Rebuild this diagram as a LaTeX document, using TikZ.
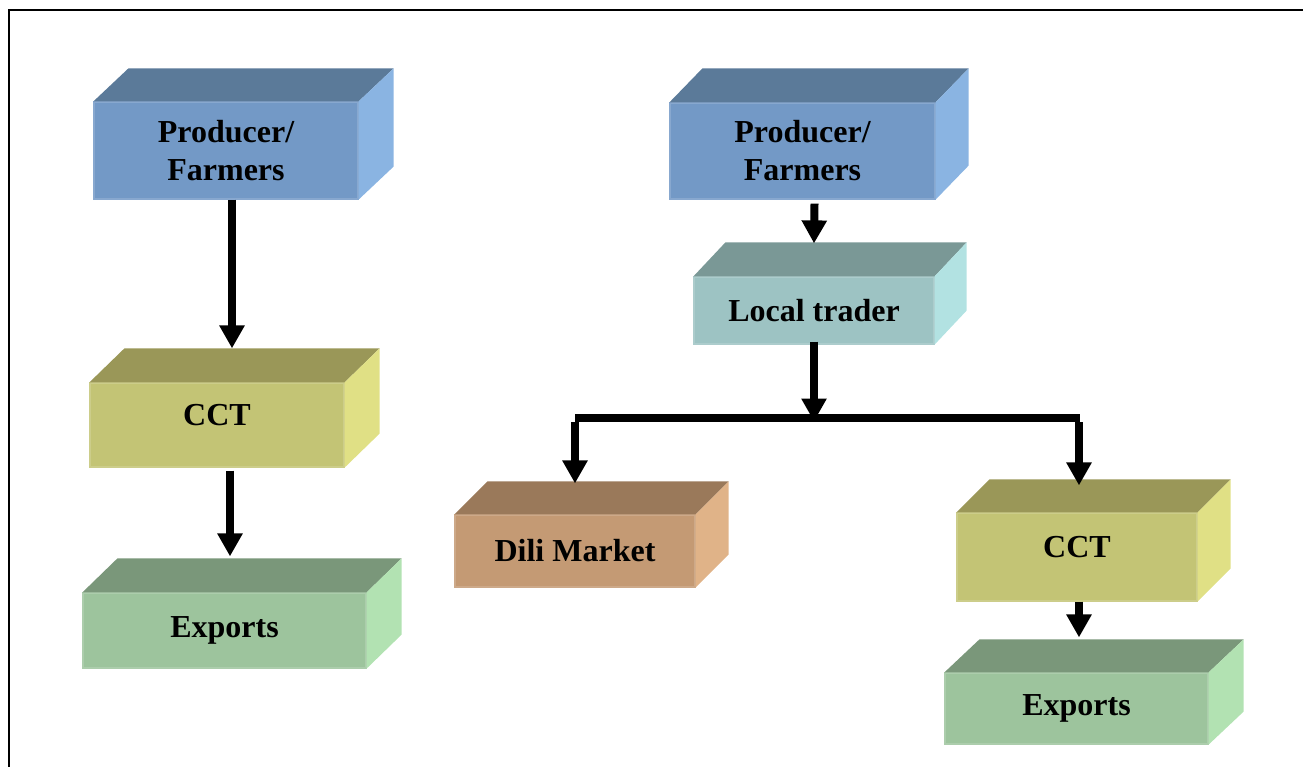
\documentclass[tikz,border=0pt]{standalone}
\usepackage{fontspec}
\setmainfont{Liberation Serif}
\usetikzlibrary{arrows.meta}
\definecolor{bluF}{RGB}{115,153,198}\definecolor{bluT}{RGB}{91,122,153}\definecolor{bluS}{RGB}{138,180,226}
\definecolor{teaF}{RGB}{157,195,195}\definecolor{teaT}{RGB}{122,152,150}\definecolor{teaS}{RGB}{178,226,226}
\definecolor{yelF}{RGB}{195,196,117}\definecolor{yelT}{RGB}{154,151,88}\definecolor{yelS}{RGB}{224,224,133}
\definecolor{grnF}{RGB}{157,196,157}\definecolor{grnT}{RGB}{122,151,122}\definecolor{grnS}{RGB}{178,226,178}
\definecolor{brnF}{RGB}{196,154,116}\definecolor{brnT}{RGB}{154,121,90}\definecolor{brnS}{RGB}{224,179,136}
\newcommand\cubefaces[5]{%
  \fill[#4] (#1.north west) -- ++(#2,-#3) -- ([shift={(#2,-#3)}]#1.north east) -- (#1.north east) -- cycle;
  \fill[#5] (#1.north east) -- ([shift={(#2,-#3)}]#1.north east) -- ([shift={(#2,-#3)}]#1.south east) -- (#1.south east) -- cycle;}
\tikzset{
  box/.style={rectangle, inner sep=0pt, align=center, font=\fontsize{32}{38}\selectfont\bfseries, line width=1.2pt},
  arr/.style={line width=8pt, -{Triangle[width=24pt,length=23pt]}},
  frame/.style={line width=2pt}
}
\begin{document}
\begin{tikzpicture}[x=1pt,y=-1pt]
\useasboundingbox (0,0) rectangle (1303,767);
\draw[frame] (8.5,767) -- (8.5,10) -- (1303,10);
% left column
\node[box, fill=bluF, draw=bluF!85!white, minimum width=264pt, minimum height=97pt] (pL) at (226,150.5) {Producer/\\Farmers};
\cubefaces{pL}{35}{33}{bluT}{bluS}
\node[box, fill=yelF, draw=yelF!85!white, minimum width=254pt, minimum height=84pt, text depth=21pt] (cL) at (217,425) {CCT};
\cubefaces{cL}{35}{34}{yelT}{yelS}
\node[box, fill=grnF, draw=grnF!85!white, minimum width=283pt, minimum height=75pt] (eL) at (224.5,630.5) {Exports};
\cubefaces{eL}{35}{34}{grnT}{grnS}
% right column
\node[box, fill=bluF, draw=bluF!85!white, minimum width=265pt, minimum height=96pt] (pR) at (802.5,151) {Producer/\\Farmers};
\cubefaces{pR}{33}{34}{bluT}{bluS}
\node[box, fill=teaF, draw=teaF!85!white, minimum width=240pt, minimum height=67pt] (lt) at (814,310.5) {Local trader};
\cubefaces{lt}{32}{34}{teaT}{teaS}
\node[box, fill=brnF, draw=brnF!85!white, minimum width=240pt, minimum height=72pt] (dm) at (575,551) {Dili Market};
\cubefaces{dm}{33}{33}{brnT}{brnS}
\node[box, fill=yelF, draw=yelF!85!white, minimum width=240pt, minimum height=88pt, text depth=21pt] (cR) at (1077,557) {CCT};
\cubefaces{cR}{33}{33}{yelT}{yelS}
\node[box, fill=grnF, draw=grnF!85!white, minimum width=263pt, minimum height=71pt] (eR) at (1076.5,708.5) {Exports};
\cubefaces{eR}{35}{33}{grnT}{grnS}
\coordinate (j) at (814,418);
% connectors
\draw[arr] ([xshift=6pt]pL.south) -- ([shift={(6,-34)}]cL.north -| pL.south);
\draw[arr] ([shift={(13,3)}]cL.south) -- ([shift={(5.5,-36)}]eL.north);
\draw[arr] ([shift={(12,4)}]pR.south) -- ([shift={(0,-33)}]lt.north);
\draw[arr] ([yshift=3pt]lt.south) -- ([yshift=-3.5pt]j);
\draw[line width=8pt] ([xshift=-239pt]j) -- ([xshift=266pt]j);
\draw[arr] ([xshift=-239pt,yshift=-4pt]j) -- ([shift={(0,-31)}]dm.north);
\draw[arr] ([xshift=265pt,yshift=-4pt]j) -- ([shift={(2,-27)}]cR.north);
\draw[arr] ([shift={(2,0)}]cR.south) -- ([shift={(2.5,-35)}]eR.north);
\end{tikzpicture}
\end{document}
